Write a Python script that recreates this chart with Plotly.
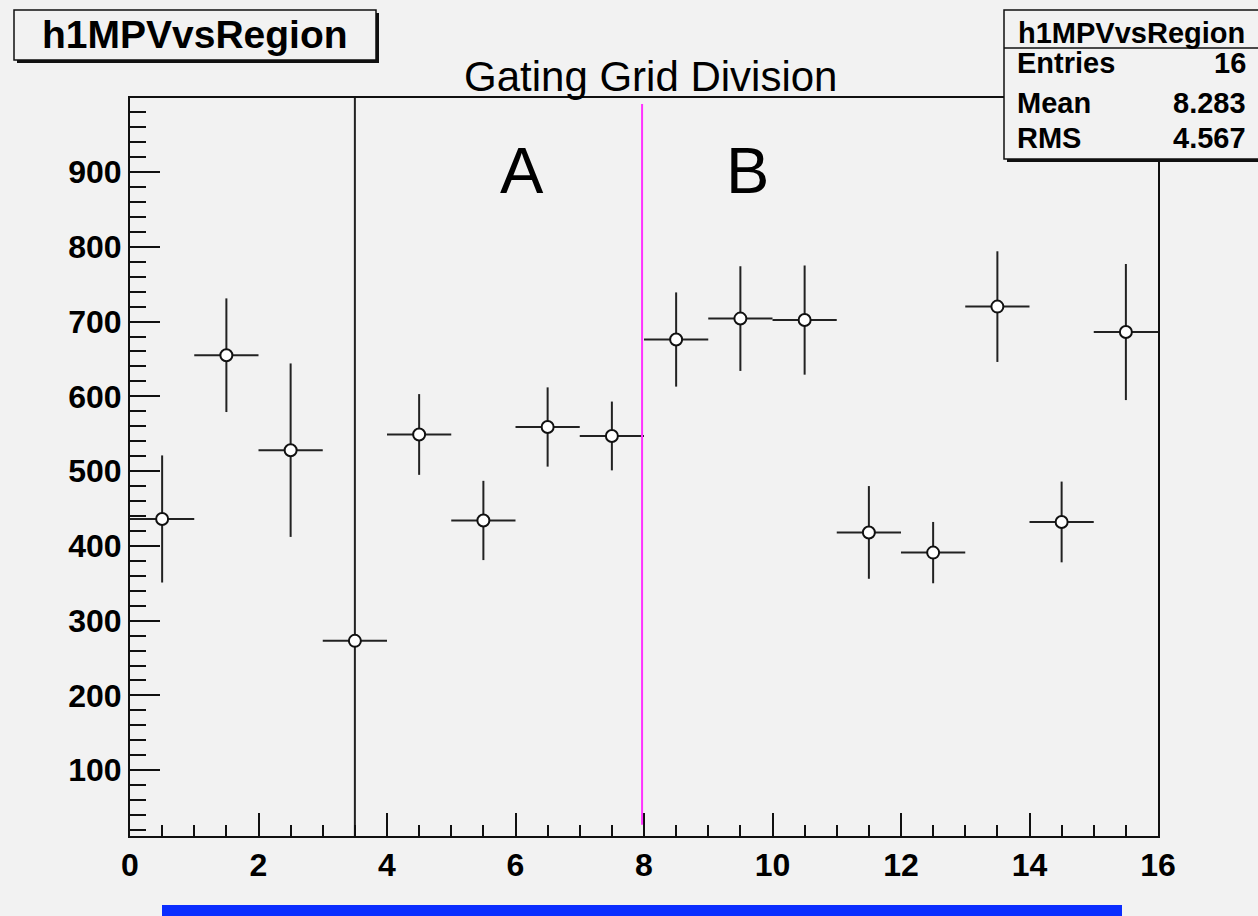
import plotly.graph_objects as go

# ---- data ----
region = [0.5, 1.5, 2.5, 3.5, 4.5, 5.5, 6.5, 7.5, 8.5, 9.5, 10.5, 11.5, 12.5, 13.5, 14.5, 15.5]
mpv = [436, 655, 528, 273, 549, 434, 559, 547, 676, 704, 702, 418, 391, 720, 432, 686]
mpv_err = [85, 76, 116, 760, 54, 53, 53, 46, 63, 70, 73, 62, 41, 74, 54, 91]
bin_half_width = [0.5] * 16
x_ticks = [0, 2, 4, 6, 8, 10, 12, 14, 16]
y_ticks = [100, 200, 300, 400, 500, 600, 700, 800, 900]
hist_name = "h1MPVvsRegion"
stats_labels = ["Entries", "Mean", "RMS"]
stats_values = ["16", "8.283", "4.567"]

W, H = 1258, 916
L, R, T, B = 130, 1158, 98, 836
BG = "#f2f2f2"
FONT = "Liberation Sans, Arial, sans-serif"


def px(xp):
    return (xp - L) / (R - L)


def py(yp):
    return (B - yp) / (B - T)


fig = go.Figure()
fig.add_trace(go.Scatter(
    x=region, y=mpv, mode="markers",
    marker=dict(symbol="circle", size=12, color="white", line=dict(color="#111", width=2)),
    error_y=dict(type="data", array=mpv_err, visible=True, color="#222", thickness=2, width=0),
    error_x=dict(type="data", array=bin_half_width, visible=True, color="#222", thickness=2, width=0),
    showlegend=False, hoverinfo="x+y",
))

shapes = []
# magenta division line
shapes.append(dict(type="line", xref="x", yref="y", x0=7.97, x1=7.97, y0=27, y1=991,
                   line=dict(color="#ff33ff", width=2), layer="above"))
# blue bar at bottom
shapes.append(dict(type="rect", xref="paper", yref="paper", x0=px(162), x1=px(1122), y0=py(905), y1=py(917),
                   fillcolor="#0b2dff", line=dict(width=0), layer="above"))
# title box (shadow + box)
shapes.append(dict(type="rect", xref="paper", yref="paper", x0=px(17), x1=px(379), y0=py(63), y1=py(13),
                   fillcolor="#111", line=dict(width=0), layer="above"))
shapes.append(dict(type="rect", xref="paper", yref="paper", x0=px(14), x1=px(376), y0=py(60), y1=py(10),
                   fillcolor=BG, line=dict(color="#111", width=1.5), layer="above"))
# stats box (shadow + box), extends past the right edge
shapes.append(dict(type="rect", xref="paper", yref="paper", x0=px(1007), x1=px(1270), y0=py(162), y1=py(13),
                   fillcolor="#111", line=dict(width=0), layer="above"))
shapes.append(dict(type="rect", xref="paper", yref="paper", x0=px(1004), x1=px(1266), y0=py(159), y1=py(10),
                   fillcolor=BG, line=dict(color="#111", width=1.5), layer="above"))
shapes.append(dict(type="line", xref="paper", yref="paper", x0=px(1004), x1=px(1266), y0=py(48), y1=py(48),
                   line=dict(color="#111", width=1.5), layer="above"))

ann = []
ann.append(dict(text=hist_name, xref="paper", yref="paper", x=px(195), y=py(35), xanchor="center", yanchor="middle",
                showarrow=False, font=dict(family=FONT, size=39, color="black", weight="bold")))
ann.append(dict(text=hist_name, xref="paper", yref="paper", x=px(1131), y=py(33), xanchor="center", yanchor="middle",
                showarrow=False, font=dict(family=FONT, size=29, color="black", weight="bold")))
for lab, val, yc in zip(stats_labels, stats_values, [63, 103, 138]):
    ann.append(dict(text=lab, xref="paper", yref="paper", x=px(1015), y=py(yc), xanchor="left", yanchor="middle",
                    showarrow=False, font=dict(family=FONT, size=29, color="black", weight="bold")))
    ann.append(dict(text=val, xref="paper", yref="paper", x=px(1248), y=py(yc), xanchor="right", yanchor="middle",
                    showarrow=False, font=dict(family=FONT, size=29, color="black", weight="bold")))
ann.append(dict(text="Gating Grid Division", xref="paper", yref="paper", x=px(650), y=py(77), xanchor="center",
                yanchor="middle", showarrow=False, font=dict(family=FONT, size=42, color="black")))
ann.append(dict(text="A", xref="paper", yref="paper", x=px(522), y=py(170), xanchor="center",
                yanchor="middle", showarrow=False, font=dict(family=FONT, size=65, color="black")))
ann.append(dict(text="B", xref="paper", yref="paper", x=px(747), y=py(170), xanchor="center",
                yanchor="middle", showarrow=False, font=dict(family=FONT, size=65, color="black")))

fig.update_layout(
    width=W, height=H,
    margin=dict(l=L, r=W - R, t=T, b=H - B, pad=0),
    paper_bgcolor=BG, plot_bgcolor=BG,
    shapes=shapes, annotations=ann,
    font=dict(family=FONT, color="black"),
)
fig.update_xaxes(
    range=[0, 16], tickvals=x_ticks, ticktext=[str(v) for v in x_ticks],
    ticks="inside", ticklen=23, tickwidth=2, tickcolor="#111",
    minor=dict(dtick=0.5, ticks="inside", ticklen=11, tickwidth=2, tickcolor="#111"),
    showline=True, linecolor="#111", linewidth=2, mirror=True,
    showgrid=False, zeroline=False,
    tickfont=dict(family=FONT, size=32, color="black", weight="bold"),
)
fig.update_yaxes(
    range=[12, 999], tickvals=y_ticks, ticktext=[str(v) for v in y_ticks],
    ticks="inside", ticklen=30, tickwidth=2, tickcolor="#111",
    minor=dict(dtick=20, ticks="inside", ticklen=16, tickwidth=2, tickcolor="#111"),
    showline=True, linecolor="#111", linewidth=2, mirror=True,
    showgrid=False, zeroline=False,
    tickfont=dict(family=FONT, size=32, color="black", weight="bold"),
)

fig.write_html("out.html")
